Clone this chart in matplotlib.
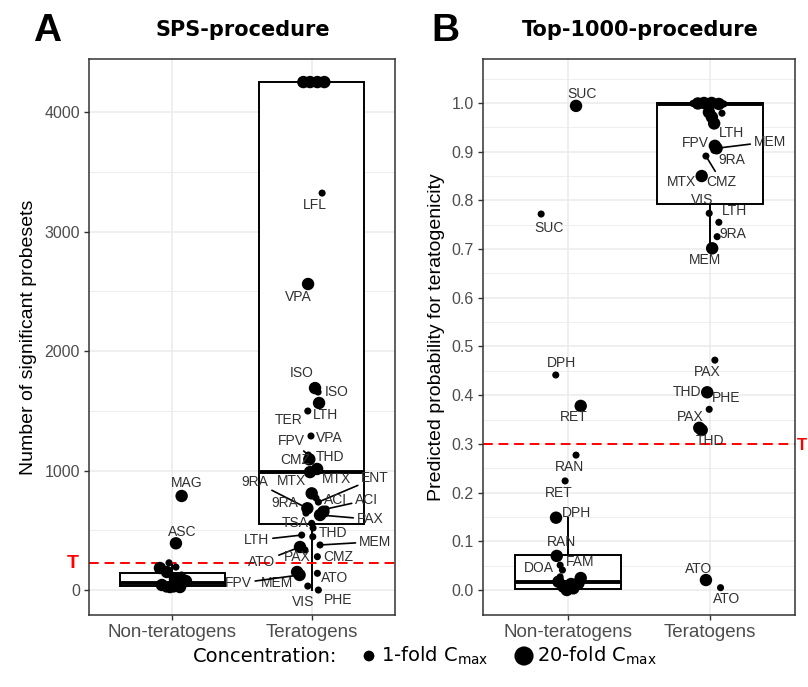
import matplotlib
matplotlib.use("Agg")
import matplotlib.pyplot as plt
import numpy as np

# ---------------- data ----------------
categories = ["Non-teratogens", "Teratogens"]

# Panel A: SPS-procedure (number of significant probesets)
A_names = ["MAG", "ASC", "", "", "", "", "", "", "", "", "", "", "", "", "", "",
           "", "", "", "", "LFL", "VPA", "ISO", "ISO", "LTH", "TER", "VPA", "FPV",
           "CMZ", "THD", "", "MTX", "MTX", "ENT", "9RA", "9RA", "ACI", "ACI", "PAX",
           "TSA", "", "THD", "LTH", "MEM", "ATO", "PAX", "CMZ", "MEM", "FPV", "ATO",
           "VIS", "PHE"]
A_group = [0] * 16 + [1] * 36
A_fold = [20, 20, 1, 1, 20, 20, 1, 20, 20, 20, 20, 20, 20, 1, 1, 20,
          20, 20, 20, 20, 1, 20, 20, 1, 20, 1, 1, 1,
          20, 20, 20, 20, 1, 1, 20, 1, 20, 1, 20,
          1, 1, 1, 1, 1, 20, 1, 1, 20, 20, 1,
          1, 1]
A_value = [787, 391, 228, 192, 184, 151, 126, 84, 50, 42, 25, 25, 75, 8, 8, 92,
           4251, 4251, 4251, 4251, 3322, 2561, 1690, 1657, 1565, 1498, 1289, 1130,
           1094, 1013, 987, 809, 770, 736, 684, 644, 655, 678, 628,
           558, 519, 446, 460, 377, 360, 335, 279, 151, 126, 140,
           33, 0]
A_box_q1 = [33, 552]
A_box_med = [61, 990]
A_box_q3 = [142, 4251]
A_box_lo = [0, 0]
A_box_hi = [228, 4251]
A_threshold = 226

# Panel B: Top-1000-procedure (predicted probability)
B_names = ["SUC", "SUC", "DPH", "RET", "RAN", "RET", "DPH", "RAN", "DOA", "FAM",
           "", "", "", "", "", "", "", "", "", "",
           "", "", "", "", "", "", "", "", "",
           "LTH", "MEM", "FPV", "CMZ", "9RA", "MTX", "VIS", "LTH", "9RA", "MEM",
           "PAX", "THD", "PHE", "PAX", "THD", "ATO", "ATO"]
B_group = [0] * 20 + [1] * 26
B_fold = [20, 1, 1, 20, 1, 1, 20, 20, 1, 20,
          1, 20, 20, 20, 20, 20, 1, 1, 20, 1,
          20, 20, 20, 20, 1, 1, 20, 20, 1,
          20, 20, 20, 1, 1, 20, 1, 1, 1, 20,
          1, 20, 1, 20, 20, 20, 1]
B_value = [0.994, 0.772, 0.4415, 0.378, 0.277, 0.224, 0.1485, 0.070, 0.051, 0.0246,
           0.041, 0.017, 0.0068, 0.0, 0.0035, 0.0138, 0.027, 0.002, 0.0123, 0.008,
           0.999, 1.0, 1.0, 0.998, 0.998, 0.999, 0.981, 0.971, 0.979,
           0.958, 0.907, 0.912, 0.891, 0.903, 0.850, 0.7735, 0.755, 0.7255, 0.7016,
           0.472, 0.406, 0.371, 0.333, 0.3285, 0.0205, 0.0048]
B_box_q1 = [0.002, 0.793]
B_box_med = [0.016, 0.998]
B_box_q3 = [0.071, 0.999]
B_box_lo = [0.0, 0.70]
B_box_hi = [0.1485, 1.0]
B_threshold = 0.3

# ---------------- layout (jitter offsets, label placement) ----------------
A_jitter = [0.066, 0.025, -0.025, 0.025, -0.090, -0.040, 0.066, 0.076, 0.040, -0.076,
            -0.018, 0.054, 0.097, -0.047, 0.011, 0.018,
            -0.059, -0.011, 0.042, 0.092, 0.076, -0.025, 0.025, 0.047, 0.054, -0.027,
            -0.004, -0.023, -0.016, 0.040, -0.011, 0.001, 0.032, 0.049, -0.030, -0.040,
            0.085, 0.104, 0.061, 0.001, 0.011, 0.009, -0.071, 0.061, -0.083, -0.047,
            0.042, -0.104, -0.086, 0.042, -0.027, 0.049]
# (label x, label y, draw segment)
A_labels = [(1.102, 893, False), (1.073, 488, False)] + [None] * 14 + [None] * 4 + [
    (2.025, 3222, False), (1.903, 2452, False), (1.929, 1813, False),
    (2.181, 1659, False), (2.097, 1464, False), (1.833, 1423, False),
    (2.128, 1269, False), (1.858, 1249, True), (1.881, 1088, False),
    (2.133, 1110, False), None, (1.858, 912, True), (2.181, 926, False),
    (2.457, 937, True), (1.594, 906, True), (1.809, 731, False),
    (2.169, 753, False), (2.397, 753, True), (2.421, 592, True),
    (1.881, 558, False), None, (2.157, 480, False), (1.606, 418, True),
    (2.457, 404, True), (1.642, 237, True), (1.894, 279, False),
    (2.193, 279, False), (1.750, 61, False), (1.473, 56, True),
    (2.169, 98, False), (1.941, -98, False), (2.193, -84, False)]

B_jitter = [0.056, -0.190, -0.087, 0.089, 0.056, -0.021, -0.085, -0.080, -0.056, 0.089,
            -0.040, -0.068, -0.033, -0.009, 0.037, 0.073, -0.056, 0.014, 0.021, 0.049,
            -0.085, -0.042, 0.012, 0.063, 0.099, -0.120, -0.007, 0.014, 0.085,
            0.030, 0.047, 0.035, -0.028, 0.028, -0.058, -0.005, 0.063, 0.051, 0.016,
            0.035, -0.019, -0.005, -0.075, -0.058, -0.028, 0.075]
B_labels = [(1.099, 1.0185, False), (0.866, 0.743, False), (0.956, 0.4655, False),
            (1.037, 0.3546, False), (1.009, 0.2532, False), (0.932, 0.1998, False),
            (1.056, 0.1587, False), (0.956, 0.0992, False), (0.791, 0.0458, False),
            (1.085, 0.058, False)] + [None] * 10 + [None] * 9 + [
    (2.153, 0.9377, False), (2.423, 0.9205, True), (1.894, 0.9172, False),
    (2.082, 0.8384, True), (2.153, 0.883, False), (1.801, 0.8384, False),
    (1.942, 0.8008, False), (2.176, 0.778, False), (2.164, 0.731, False),
    (1.965, 0.6776, False), (1.981, 0.4482, False), (1.836, 0.4072, False),
    (2.113, 0.3949, False), (1.859, 0.3546, False), (2.0, 0.306, False),
    (1.923, 0.0425, False), (2.118, -0.019, False)]

# ---------------- figure ----------------
W, H = 808, 687
fig = plt.figure(figsize=(W / 100, H / 100), dpi=100)
FONT = "Liberation Sans"
plt.rcParams["font.family"] = [FONT, "DejaVu Sans"]

def rect(l, r, t, b):
    return [l / W, 1 - b / H, (r - l) / W, (b - t) / H]

axA = fig.add_axes(rect(89, 395, 59, 615))
axB = fig.add_axes(rect(483, 795, 59, 615))

S_SMALL, S_LARGE = 26, 80
GRID = "#EBEBEB"
AXCOL = "#333333"


def draw_panel(ax, names, group, fold, value, jit, labels, q1, med, q3, lo, hi,
               ylim, major, minor, ticklabels, thr):
    stats = [dict(q1=q1[i], med=med[i], q3=q3[i], whislo=lo[i], whishi=hi[i],
                  fliers=[]) for i in range(2)]
    ax.bxp(stats, positions=[1, 2], widths=0.75, showcaps=False, showfliers=False,
           patch_artist=True,
           boxprops=dict(facecolor="white", edgecolor="black", lw=1.4),
           medianprops=dict(color="black", lw=2.8, solid_capstyle="butt"),
           whiskerprops=dict(color="black", lw=1.4), zorder=2)

    ax.set_xlim(0.4, 2.6)
    ax.set_ylim(*ylim)
    ax.set_yticks(major)
    ax.set_yticklabels(ticklabels)
    ax.set_yticks(minor, minor=True)
    ax.set_xticks([1, 2])
    ax.set_xticklabels(categories)
    ax.grid(which="major", color=GRID, lw=1.1, zorder=0)
    ax.grid(which="minor", axis="y", color=GRID, lw=0.6, zorder=0)
    ax.set_axisbelow(True)
    for s in ax.spines.values():
        s.set_color(AXCOL)
        s.set_linewidth(1.1)
    ax.tick_params(which="major", length=3.5, width=1.0, color=AXCOL,
                   labelcolor="#4D4D4D", labelsize=11.5, pad=3)
    ax.tick_params(axis="x", labelsize=13.5, pad=3)
    ax.tick_params(which="minor", length=0)

    ax.axhline(thr, color="#FF0000", lw=1.4, ls=(0, (5, 3)), zorder=2.5)

    x = np.array(group) + 1 + np.array(jit)
    v = np.array(value, dtype=float)
    s = np.where(np.array(fold) == 20, S_LARGE, S_SMALL)
    ax.scatter(x, v, s=s, c="black", linewidths=0, zorder=4)

    for i, lab in enumerate(labels):
        if lab is None or not names[i]:
            continue
        lx, ly, seg = lab
        kw = dict(ha="center", va="center", fontsize=10, color="#303030", zorder=5)
        if seg:
            ax.annotate(names[i], xy=(x[i], v[i]), xytext=(lx, ly),
                        arrowprops=dict(arrowstyle="-", color="black", lw=1.2,
                                        shrinkA=0.5, shrinkB=1.5), **kw)
        else:
            ax.text(lx, ly, names[i], **kw)


draw_panel(axA, A_names, A_group, A_fold, A_value, A_jitter, A_labels,
           A_box_q1, A_box_med, A_box_q3, A_box_lo, A_box_hi,
           (-209, 4444), [0, 1000, 2000, 3000, 4000],
           [500, 1500, 2500, 3500], ["0", "1000", "2000", "3000", "4000"],
           A_threshold)
btick = np.round(np.arange(0, 1.01, 0.1), 1)
draw_panel(axB, B_names, B_group, B_fold, B_value, B_jitter, B_labels,
           B_box_q1, B_box_med, B_box_q3, B_box_lo, B_box_hi,
           (-0.0513, 1.0903), btick, np.round(np.arange(0.05, 1.06, 0.1), 2),
           ["%.1f" % t for t in btick], B_threshold)

axA.set_ylabel("Number of significant probesets", fontsize=14, labelpad=5)
axB.set_ylabel("Predicted probability for teratogenicity", fontsize=14, labelpad=5)


def ftext(px, py, s, **kw):
    fig.text(px / W, 1 - py / H, s, **kw)


ftext(47, 31, "A", fontsize=28, fontweight="bold", ha="center", va="center")
ftext(445, 31, "B", fontsize=28, fontweight="bold", ha="center", va="center")
ftext(243, 30, "SPS-procedure", fontsize=15, fontweight="bold", ha="center",
      va="center", family="DejaVu Sans")
ftext(640, 30, "Top-1000-procedure", fontsize=15, fontweight="bold", ha="center",
      va="center", family="DejaVu Sans")
ftext(73, 563, "T", fontsize=14, fontweight="bold", color="#FF0000", ha="center",
      va="center")
ftext(796.5, 445, "T", fontsize=12, fontweight="bold", color="#FF0000", ha="left",
      va="center")

# legend
lg = fig.add_axes([0, 0, 1, 1], facecolor="none")
lg.set_xlim(0, W)
lg.set_ylim(H, 0)
lg.axis("off")
lg.scatter([369, 524], [656, 656], s=[60, 190], c="black", linewidths=0)
ftext(193, 656, "Concentration:", fontsize=14, family="DejaVu Sans", ha="left",
      va="center")
ftext(381, 656, "1-fold C$_{\\mathrm{max}}$", fontsize=14, family="DejaVu Sans",
      ha="left", va="center")
ftext(537, 656, "20-fold C$_{\\mathrm{max}}$", fontsize=14, family="DejaVu Sans",
      ha="left", va="center")

fig.savefig("out.png", dpi=100)
